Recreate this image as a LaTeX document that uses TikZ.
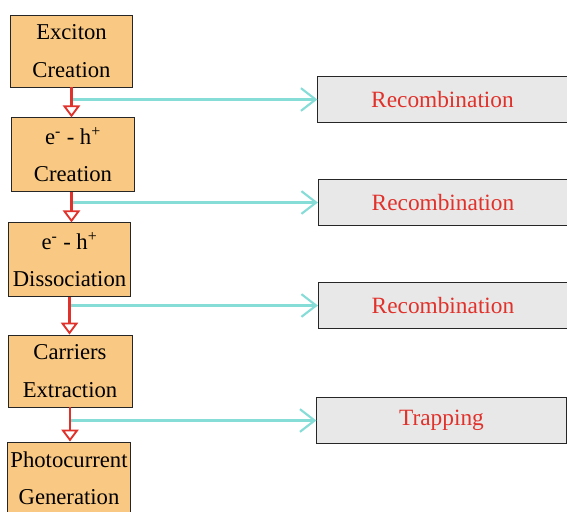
\documentclass[tikz,border=0pt]{standalone}
\usepackage{fontspec}
\setmainfont{Liberation Serif}
\usepackage{xcolor}
\usetikzlibrary{arrows.meta}

\definecolor{stagefill}{HTML}{F9C882}
\definecolor{lossfill}{HTML}{E8E8E8}
\definecolor{flowred}{HTML}{E0312B}
\definecolor{losscyan}{HTML}{86DCD6}

\tikzset{
  stage/.style={draw=black!85, fill=stagefill, line width=0.7pt, align=center,
    inner sep=0pt, font=\fontsize{17}{28}\selectfont},
  loss/.style={draw=black!85, fill=lossfill, line width=0.7pt,
    minimum width=187pt, minimum height=34pt, inner sep=0pt,
    text=flowred, font=\fontsize{17.5}{20}\selectfont},
  flow/.style={draw=flowred, line width=1.8pt,
    -{Triangle[open, length=9pt, width=13pt, line width=1.4pt]}},
  leak/.style={draw=losscyan, line width=1.6pt,
    -{Straight Barb[length=11pt, width=17pt, line width=1.6pt]}}
}

\begin{document}
\begin{tikzpicture}[x=0.75pt, y=-0.75pt]
    \useasboundingbox (0,0) rectangle (567,511);

    % 1. Các bước chính
    \node[stage, minimum width=92pt, minimum height=54pt] (exciton) at (71.5,51) {Exciton\\Creation};
    \node[stage, minimum width=92pt, minimum height=55pt] (pair) at (73,154.5) {e\textsuperscript{-} - h\textsuperscript{+}\\Creation};
    \node[stage, minimum width=92pt, minimum height=55pt] (dissoc) at (69.5,259.5) {e\textsuperscript{-} - h\textsuperscript{+}\\Dissociation};
    \node[stage, minimum width=93pt, minimum height=54pt] (extract) at (70,371) {Carriers\\Extraction};
    \node[stage, minimum width=92pt, minimum height=54pt] (photo) at (69,478) {Photocurrent\\Generation};

    % 2. Các kênh tổn hao
    \node[loss] (rec1) at (442.5,99.5) {Recombination};
    \node[loss] (rec2) at (443,202.5) {Recombination};
    \node[loss] (rec3) at (443,305.5) {Recombination};
    \node[loss] (trap) at (441.5,420.5) {\raisebox{-3pt}{Trapping}};

    % 3. Mũi tên
    \draw[leak] (exciton.south |- rec1.west) -- (rec1.west);
    \draw[leak] (exciton.south |- rec2.west) -- (rec2.west);
    \draw[leak] (dissoc.south |- rec3.west) -- (rec3.west);
    \draw[leak] (extract.south |- trap.west) -- (trap.west);

    \draw[flow] (exciton.south) -- (pair.north -| exciton.south);
    \draw[flow] (pair.south -| exciton.south) -- (dissoc.north -| exciton.south);
    \draw[flow] (dissoc.south) -- (extract.north -| dissoc.south);
    \draw[flow] (extract.south) -- (photo.north -| extract.south);
\end{tikzpicture}
\end{document}
